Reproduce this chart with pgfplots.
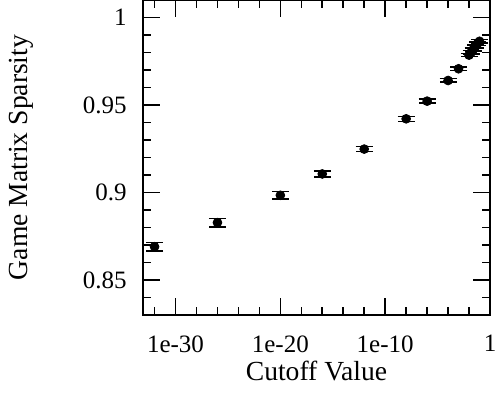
\documentclass[border=0pt]{standalone}
\usepackage{fontspec}
\setmainfont{Liberation Serif}
\newfontfamily\tickfont{Liberation Serif}
\usepackage{pgfplots}
\pgfplotsset{compat=1.18}

% tick labels: Times-metric serif, set as text
\newcommand{\tl}[1]{{\tickfont\fontsize{12.5}{14}\selectfont #1}}

\begin{document}
\fontsize{12}{14}\selectfont
\begin{tikzpicture}
\begin{axis}[
  scale only axis,
  width=173.5pt, height=157.5pt,
  xmode=log,
  xmin=7.9e-34, xmax=1,
  ymin=0.83, ymax=1.01,
  /pgf/number format/assume math mode=true,
  axis line style={line width=0.9pt},
  tick style={line width=0.8pt, black},
  tick align=inside,
  xtick={1e-30,1e-20,1e-10,1},
  xticklabels={\tl{1e-30},\tl{1e-20},\tl{1e-10},\tl{1}},
  minor xtick={1e-32,1e-28,1e-26,1e-24,1e-22,1e-18,1e-16,1e-14,1e-12,1e-8,1e-6,1e-4,1e-2},
  ytick={0.85,0.9,0.95,1},
  yticklabels={\tl{0.85},\tl{0.9},\tl{0.95},\tl{1}},
  minor ytick={0.84,0.86,0.87,0.88,0.89,0.91,0.92,0.93,0.94,0.96,0.97,0.98,0.99},
  major tick length=8.5pt,
  minor tick length=4pt,
  xticklabel style={yshift=-6pt},
  yticklabel style={xshift=-4pt},
  label style={font=\tickfont\fontsize{13.8}{16}\selectfont},
  xlabel={Cutoff Value},
  ylabel={Game Matrix Sparsity},
  xlabel style={at={(axis description cs:0.5,-0.178)}, anchor=center},
  ylabel style={at={(axis description cs:-0.352,0.5)}, anchor=center, rotate=0},
  clip=false,
]
\addplot[
  only marks,
  mark=*,
  mark size=2.2pt,
  mark options={fill=black, draw=black},
  error bars/.cd,
    y dir=both, y explicit,
    error bar style={line width=0.75pt, black},
    error mark options={mark size=4.25pt, line width=0.75pt, black, rotate=90},
] table[x=x, y=y, y error=e] {
x        y       e
1e-32    0.8690  0.0024
1e-26    0.8828  0.0024
1e-20    0.8984  0.0022
1e-16    0.9106  0.0018
1e-12    0.9248  0.0015
1e-8     0.9421  0.0014
1e-6     0.9522  0.0011
1e-4     0.9640  0.0010
1e-3     0.9707  0.0010
0.01     0.9785  0.0009
0.0158   0.9801  0.0009
0.0251   0.9817  0.0009
0.0398   0.9834  0.0009
0.0631   0.9850  0.0009
0.1      0.9864  0.0009
};
\end{axis}
\pgfresetboundingbox
\path[use as bounding box] (current axis.south west) ++(-71.5pt,-42.5pt)
  rectangle ([xshift=3.5pt]current axis.north east);
\end{tikzpicture}
\end{document}
